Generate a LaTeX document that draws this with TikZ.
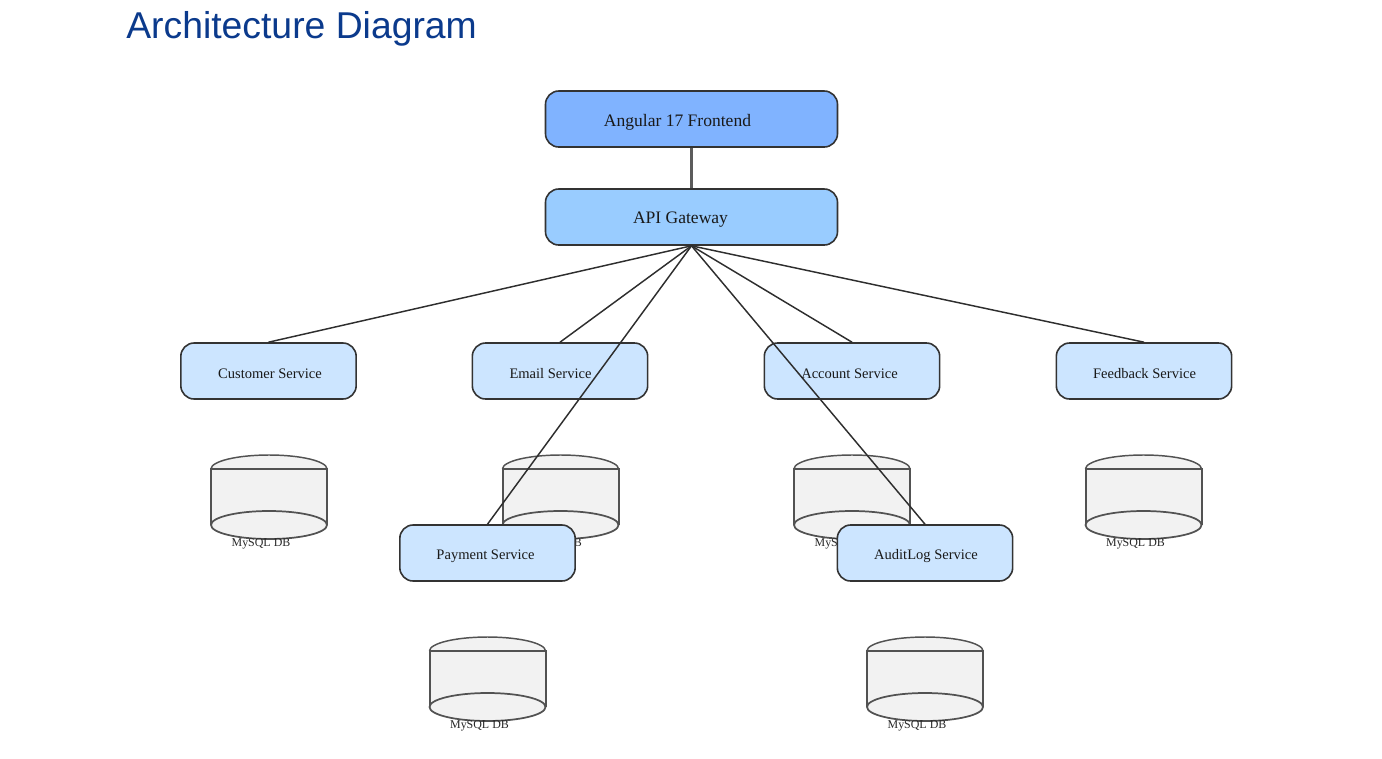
\documentclass[tikz,border=0pt]{standalone}
\usepackage{fontspec}
\setmainfont{Liberation Serif}
\newfontfamily\titlefont{Liberation Sans}
\definecolor{titleblue}{HTML}{0B3A8C}
\definecolor{frontfill}{HTML}{80B3FF}
\definecolor{gatefill}{HTML}{99CCFF}
\definecolor{svcfill}{HTML}{CCE5FF}
\definecolor{dbfill}{HTML}{F2F2F2}
\definecolor{edge}{HTML}{333333}
\tikzset{
  boxbase/.style={draw=edge,line width=1.2pt,rounded corners=10pt,inner sep=0pt,minimum height=42pt},
  bigbox/.style={boxbase,minimum width=219pt},
  svcbox/.style={boxbase,fill=svcfill,minimum width=131.5pt},
  bigtext/.style={font=\fontsize{13.15pt}{15pt}\selectfont,text=black!90,inner sep=0pt},
  svctext/.style={font=\fontsize{10.9pt}{13pt}\selectfont,text=black!90,inner sep=0pt},
  dbtext/.style={font=\fontsize{8.95pt}{11pt}\selectfont,text=black!85,inner sep=0pt},
  link/.style={draw=edge!90!black,line width=1.1pt},
  trunk/.style={draw=edge!80,line width=1.7pt},
  dbline/.style={draw=edge!85,line width=1.3pt}
}
% #1 name, #2 centre x, #3 y of the top rim
\newcommand{\dbcyl}[3]{%
  \fill[dbfill] (#2-58,#3) arc[start angle=180,end angle=360,x radius=58,y radius=14]
     -- (#2+58,#3+56) arc[start angle=0,end angle=180,x radius=58,y radius=14] -- cycle;
  \draw[dbline,line width=1.1pt] (#2-58,#3) arc[start angle=180,end angle=360,x radius=58,y radius=14];
  \draw[dbline,line width=1.5pt] (#2-58,#3+56) -- (#2-58,#3) -- (#2+58,#3) -- (#2+58,#3+56);
  \draw[dbline,fill=dbfill] (#2,#3+56) ellipse[x radius=58,y radius=14];
  \node[dbtext] (#1) at (#2-8,#3+74.5) {MySQL DB};
}
\begin{document}
\begin{tikzpicture}[x=0.75pt,y=-0.75pt]
\useasboundingbox (0,0) rectangle (1382,758);
\node[font=\fontsize{28pt}{32pt}\selectfont\titlefont,text=titleblue,anchor=west,inner sep=0pt] (title) at (126,28.5) {Architecture Diagram};

\node[bigbox,fill=frontfill] (front) at (691.5,119) {};
\node[bigbox,fill=gatefill] (gate) at (691.5,217) {};
\node[svcbox] (customer) at (268.5,371) {};
\node[svcbox] (email) at (560,371) {};
\node[svcbox] (account) at (852,371) {};
\node[svcbox] (feedback) at (1144,371) {};

\dbcyl{dbcustomer}{269}{469}
\dbcyl{dbemail}{560.5}{469}
\dbcyl{dbaccount}{852}{469}
\dbcyl{dbfeedback}{1143.5}{469}
\dbcyl{dbpayment}{487.5}{651}
\dbcyl{dbaudit}{925}{651}

\node[svcbox] (payment) at (487.5,553) {};
\node[svcbox] (audit) at (925,553) {};

\draw[trunk] (front.south) -- (gate.north);
\foreach \t in {customer,email,account,feedback,payment,audit}
  \draw[link] (gate.south) -- (\t.north);

\node[bigtext] (fronttext) at (677.5,122) {Angular 17 Frontend};
\node[bigtext] (gatetext) at (680.5,220) {API Gateway};
\node[svctext] (customertext) at (270,374) {Customer Service};
\node[svctext] (emailtext) at (550.5,374) {Email Service};
\node[svctext] (accounttext) at (849.5,374) {Account Service};
\node[svctext] (feedbacktext) at (1144.5,374) {Feedback Service};
\node[svctext] (paymenttext) at (485.5,556) {Payment Service};
\node[svctext] (audittext) at (926,556) {AuditLog Service};
\end{tikzpicture}
\end{document}
